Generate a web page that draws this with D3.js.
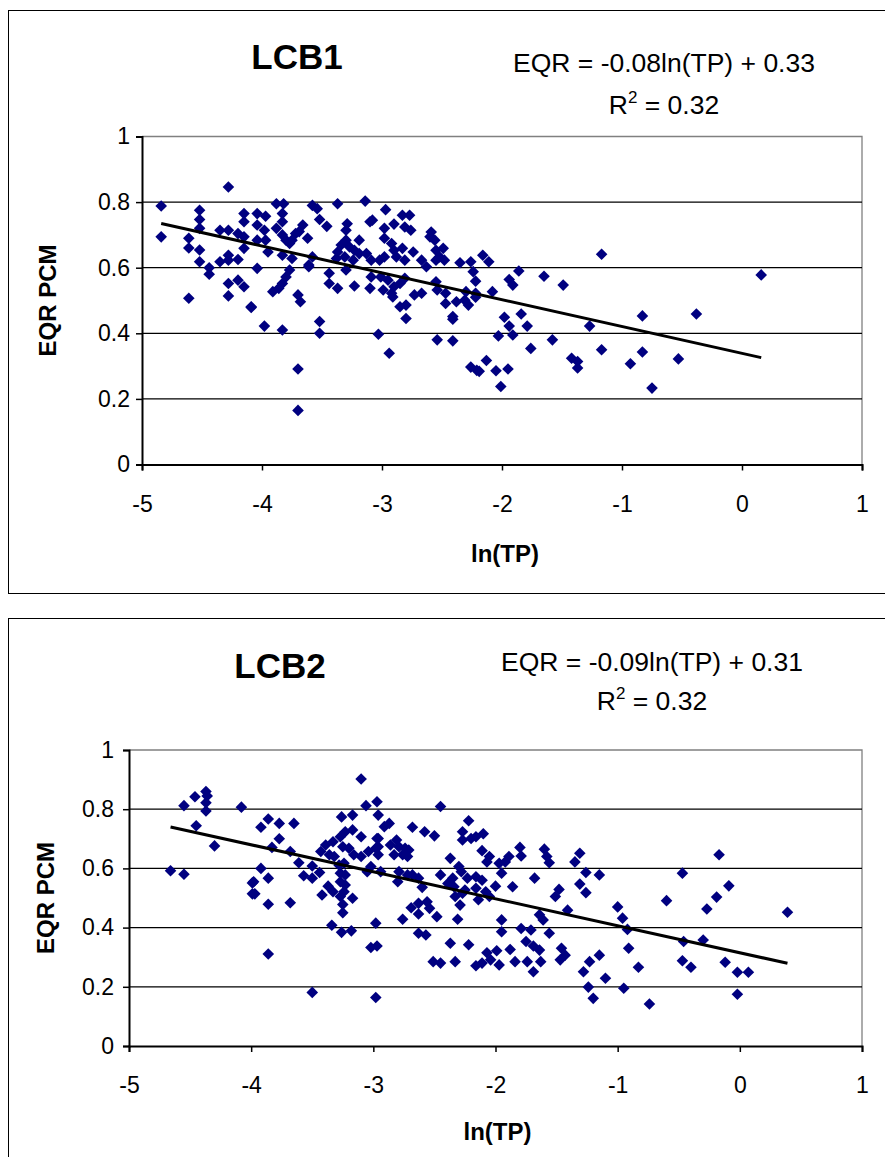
<!DOCTYPE html>
<html><head><meta charset="utf-8">
<script src="https://cdn.jsdelivr.net/npm/d3@7"></script>
<style>body{margin:0;background:#fff}svg{display:block}text{font-family:"Liberation Sans",Arial,sans-serif}</style>
</head><body>
<svg id="c" width="885" height="1157"></svg>
<script>
// ---------- DATA ----------
const xTickValues = [-5, -4, -3, -2, -1, 0, 1];
const yTickValues = [0, 0.2, 0.4, 0.6, 0.8, 1];
const xAxisTitle = "ln(TP)";
const yAxisTitle = "EQR PCM";

const lcb1Title = "LCB1";
const lcb1Equation = "EQR = -0.08ln(TP) + 0.33";
const lcb1R2 = "0.32";
const lcb1Trend = [-0.0818, 0.339, -4.84, 0.16]; // slope, intercept, xmin, xmax
const lcb1LnTP = [-4.28,-4.84,-4.84,-4.52,-4.52,-4.52,-4.61,-4.61,-4.52,-4.52,-4.44,-4.44,-4.35,-4.35,-4.28,-4.28,-4.28,-4.20,-4.20,-4.28,-4.28,-4.20,-4.15,-4.61,-4.09,-4.15,-4.15,-4.15,-4.15,-4.04,-3.97,-4.04,-3.98,-4.04,-3.97,-3.95,-4.04,-3.88,-3.82,-3.83,-3.83,-3.88,-3.83,-3.80,-3.75,-3.72,-3.66,-3.69,-3.62,-3.77,-3.83,-3.75,-3.61,-3.58,-3.77,-3.80,-3.83,-3.86,-3.91,-3.70,-3.68,-3.58,-4.09,-3.98,-3.83,-3.70,-3.70,-3.14,-3.37,-3.54,-2.97,-3.52,-3.46,-3.29,-3.10,-3.08,-2.90,-2.83,-2.77,-2.81,-2.76,-2.98,-2.98,-3.30,-3.30,-3.19,-3.34,-3.27,-3.37,-3.23,-3.19,-3.31,-3.38,-3.24,-3.13,-3.09,-2.92,-2.90,-2.83,-2.74,-2.98,-2.88,-2.81,-2.59,-2.60,-2.56,-2.49,-2.55,-2.52,-2.55,-2.48,-2.67,-2.63,-2.35,-2.26,-2.24,-3.61,-3.44,-3.44,-3.37,-3.23,-3.30,-3.09,-3.10,-3.02,-3.01,-2.99,-2.95,-2.92,-2.90,-2.85,-2.81,-2.91,-2.85,-2.80,-2.73,-2.67,-2.55,-2.54,-2.47,-2.47,-2.38,-2.31,-2.30,-2.28,-2.41,-3.52,-2.22,-3.52,-3.03,-2.94,-2.54,-2.41,-2.41,-2.80,-2.26,-2.21,-2.16,-2.11,-2.22,-2.22,-2.08,-1.86,-1.94,-1.91,-1.65,-1.49,-1.17,0.16,-1.98,-1.84,-1.94,-1.79,-2.03,-1.91,-1.76,-1.58,-1.27,-0.83,-0.38,-1.17,-0.83,-0.53,-1.42,-1.37,-1.37,-0.93,-2.13,-2.19,-2.05,-1.95,-2.01,-0.75];
const lcb1EQR = [0.846,0.788,0.694,0.775,0.747,0.72,0.69,0.66,0.654,0.618,0.60,0.58,0.714,0.618,0.714,0.638,0.623,0.704,0.625,0.552,0.514,0.562,0.542,0.507,0.481,0.765,0.74,0.694,0.659,0.765,0.757,0.73,0.714,0.684,0.684,0.648,0.598,0.795,0.795,0.765,0.74,0.72,0.70,0.684,0.684,0.704,0.73,0.71,0.69,0.674,0.638,0.628,0.603,0.633,0.593,0.572,0.552,0.537,0.527,0.517,0.496,0.79,0.479,0.422,0.41,0.291,0.165,0.803,0.795,0.78,0.777,0.747,0.726,0.734,0.74,0.745,0.733,0.76,0.76,0.724,0.714,0.72,0.69,0.714,0.684,0.684,0.669,0.663,0.648,0.653,0.643,0.633,0.628,0.623,0.643,0.623,0.674,0.653,0.659,0.648,0.633,0.633,0.623,0.709,0.694,0.684,0.659,0.653,0.633,0.623,0.623,0.623,0.603,0.615,0.618,0.588,0.608,0.583,0.552,0.537,0.544,0.593,0.572,0.537,0.623,0.572,0.532,0.562,0.522,0.542,0.552,0.568,0.511,0.481,0.486,0.517,0.522,0.557,0.532,0.522,0.491,0.496,0.501,0.527,0.486,0.451,0.436,0.522,0.40,0.397,0.339,0.38,0.377,0.443,0.445,0.297,0.287,0.638,0.618,0.559,0.51,0.527,0.59,0.564,0.547,0.574,0.547,0.641,0.578,0.449,0.459,0.422,0.422,0.392,0.395,0.354,0.38,0.422,0.453,0.459,0.35,0.343,0.322,0.324,0.314,0.294,0.307,0.317,0.284,0.286,0.291,0.238,0.233];

const lcb2Title = "LCB2";
const lcb2Equation = "EQR = -0.09ln(TP) + 0.31";
const lcb2R2 = "0.32";
const lcb2Trend = [-0.0912, 0.315, -4.66, 0.39];
const lcb2LnTP = [-4.37,-4.36,-4.46,-4.37,-4.55,-4.37,-4.08,-4.45,-4.30,-4.66,-4.55,-3.99,-3.99,-3.10,-3.06,-2.97,-3.86,-3.92,-3.77,-3.65,-3.77,-3.83,-3.68,-3.61,-3.50,-3.92,-3.98,-3.86,-3.97,-3.57,-3.50,-3.44,-3.86,-3.68,-3.42,-3.37,-3.33,-3.86,-3.50,-3.26,-3.17,-3.23,-3.17,-3.10,-3.27,-3.33,-3.39,-3.43,-3.36,-3.32,-3.25,-3.20,-3.16,-3.10,-3.04,-2.98,-2.97,-3.28,-3.24,-3.27,-3.23,-3.27,-3.23,-3.24,-3.27,-3.17,-3.25,-3.25,-3.05,-3.02,-3.34,-3.26,-3.18,-2.98,-3.02,-2.97,-2.98,-2.96,-2.45,-2.87,-2.91,-2.68,-2.58,-2.50,-2.96,-2.96,-2.96,-2.86,-2.81,-2.79,-2.74,-2.71,-2.83,-2.76,-2.72,-2.94,-2.79,-2.72,-2.68,-2.63,-2.80,-2.60,-2.69,-2.63,-2.56,-2.63,-2.54,-2.48,-2.76,-2.63,-2.57,-2.51,-2.45,-2.27,-2.22,-2.27,-2.20,-2.16,-2.10,-2.37,-2.11,-2.05,-2.07,-1.97,-2.30,-2.28,-2.45,-2.35,-2.23,-2.16,-2.11,-1.95,-2.39,-2.34,-2.25,-2.16,-2.08,-2.00,-2.33,-2.27,-2.14,-2.05,-2.29,-2.31,-1.95,-1.95,-2.37,-2.22,-2.07,-1.99,-2.33,-2.16,-2.11,-2.04,-1.97,-1.80,-1.79,-1.89,-1.92,-1.60,-1.58,-1.56,-1.31,-1.35,-1.26,-1.15,-1.68,-1.86,-1.31,-1.26,-1.48,-1.51,-1.41,-1.64,-1.61,-1.00,-0.96,-1.79,-1.71,-1.56,-1.75,-1.69,-1.88,-1.46,-1.43,-1.47,-1.64,-1.63,-1.84,-1.74,-1.69,-1.15,-1.23,-1.28,-1.24,-1.20,-1.10,-0.95,-0.91,-0.17,-0.47,-0.09,-0.60,-0.19,-0.27,0.39,-0.92,-0.46,-0.30,-0.83,-0.47,-0.40,-0.12,-0.02,0.07,-0.74,-0.02];
const lcb2EQR = [0.86,0.845,0.842,0.822,0.812,0.794,0.807,0.744,0.676,0.592,0.58,0.551,0.514,0.902,0.812,0.825,0.767,0.739,0.752,0.752,0.70,0.671,0.657,0.619,0.608,0.60,0.555,0.567,0.514,0.575,0.567,0.586,0.479,0.484,0.51,0.54,0.521,0.311,0.181,0.774,0.78,0.724,0.73,0.707,0.707,0.69,0.679,0.657,0.646,0.64,0.673,0.668,0.646,0.64,0.657,0.668,0.701,0.611,0.617,0.584,0.578,0.555,0.544,0.521,0.505,0.499,0.478,0.45,0.589,0.606,0.408,0.384,0.389,0.415,0.333,0.338,0.164,0.78,0.809,0.752,0.741,0.739,0.724,0.71,0.701,0.673,0.646,0.679,0.696,0.673,0.668,0.662,0.646,0.646,0.64,0.589,0.589,0.578,0.578,0.567,0.555,0.536,0.467,0.482,0.487,0.446,0.465,0.437,0.428,0.381,0.375,0.285,0.28,0.724,0.761,0.696,0.701,0.707,0.717,0.634,0.66,0.64,0.622,0.617,0.606,0.589,0.578,0.567,0.567,0.572,0.56,0.584,0.549,0.538,0.527,0.533,0.521,0.54,0.505,0.516,0.494,0.505,0.476,0.428,0.426,0.386,0.347,0.342,0.315,0.322,0.285,0.271,0.28,0.291,0.274,0.671,0.642,0.64,0.622,0.665,0.64,0.619,0.651,0.622,0.586,0.578,0.567,0.538,0.547,0.518,0.529,0.505,0.459,0.443,0.426,0.47,0.432,0.397,0.392,0.381,0.353,0.338,0.326,0.33,0.307,0.291,0.324,0.285,0.285,0.285,0.251,0.307,0.285,0.251,0.199,0.161,0.229,0.195,0.33,0.646,0.584,0.541,0.491,0.503,0.463,0.452,0.394,0.353,0.358,0.266,0.288,0.266,0.283,0.249,0.249,0.142,0.175];

// ---------- DRAW ----------
const svg = d3.select("#c");
const fmtX = d => String(d);
const fmtY = d => String(+d.toFixed(1));

function drawChart(o) {
  const g = svg.append("g");
  g.append("rect").attr("x", o.frame[0] + 0.5).attr("y", o.frame[1] + 0.5)
    .attr("width", o.frame[2]).attr("height", o.frame[3])
    .attr("fill", "#fff").attr("stroke", "#000").attr("stroke-width", 1);

  const x = d3.scaleLinear().domain([-5, 1]).range([o.plot.left, o.plot.right]);
  const y = d3.scaleLinear().domain([0, 1]).range([o.plot.bottom, o.plot.top]);

  // plot border (grey top/right)
  g.append("path").attr("d", `M${x(-5)},${y(1)}H${x(1)}V${y(0)}`)
    .attr("fill", "none").attr("stroke", "#808080").attr("stroke-width", 1.3);

  // gridlines
  g.selectAll(".grid").data(yTickValues.filter(v => v > 0 && v < 1)).enter()
    .append("line").attr("x1", x(-5)).attr("x2", x(1))
    .attr("y1", d => y(d)).attr("y2", d => y(d))
    .attr("stroke", "#000").attr("stroke-width", 1.3);

  // axes
  const ya = g.append("g").attr("transform", `translate(${x(-5)},0)`)
    .call(d3.axisLeft(y).tickValues(yTickValues).tickFormat(fmtY).tickSize(6).tickPadding(o.yPad));
  const xa = g.append("g").attr("transform", `translate(0,${y(0)})`)
    .call(d3.axisBottom(x).tickValues(xTickValues).tickFormat(fmtX).tickSize(6).tickPadding(o.xPad));
  [ya, xa].forEach(a => {
    a.select(".domain").attr("stroke", "#000").attr("stroke-width", 2);
    a.selectAll(".tick line").attr("stroke", "#000").attr("stroke-width", 1.5);
    a.selectAll("text").attr("font-size", 23).attr("fill", "#000")
      .attr("font-family", '"Liberation Sans", Arial, sans-serif');
  });

  // points
  const pts = o.lnTP.map((v, i) => [v, o.eqr[i]]);
  const r = 5.8;
  g.selectAll(".pt").data(pts).enter().append("path")
    .attr("d", `M0,${-r}L${r},0L0,${r}L${-r},0Z`)
    .attr("transform", d => `translate(${x(d[0])},${y(d[1])})`)
    .attr("fill", "#000080");

  // trendline
  const [m, b, x0, x1] = o.trend;
  g.append("line").attr("x1", x(x0)).attr("y1", y(m * x0 + b))
    .attr("x2", x(x1)).attr("y2", y(m * x1 + b))
    .attr("stroke", "#000").attr("stroke-width", 3);

  // titles
  g.append("text").attr("x", o.titlePos[0]).attr("y", o.titlePos[1])
    .attr("text-anchor", "middle").attr("font-size", 35).attr("font-weight", "bold").text(o.title);
  g.append("text").attr("x", o.eqPos[0]).attr("y", o.eqPos[1])
    .attr("text-anchor", "middle").attr("font-size", 26.5).text(o.equation);
  const r2 = g.append("text").attr("x", o.eqPos[0]).attr("y", o.eqPos[1] + o.r2dy)
    .attr("text-anchor", "middle").attr("font-size", 26.5);
  r2.append("tspan").text("R");
  r2.append("tspan").attr("font-size", 17).attr("dy", -11).text("2");
  r2.append("tspan").attr("dy", 11).text(" = " + o.r2);

  g.append("text").attr("x", (o.plot.left + o.plot.right) / 2 + o.xtOff).attr("y", o.xTitleY)
    .attr("text-anchor", "middle").attr("font-size", 24).attr("font-weight", "bold").text(xAxisTitle);
  g.append("text").attr("transform", `translate(${o.yTitleX},${(o.plot.top + o.plot.bottom) / 2}) rotate(-90)`)
    .attr("text-anchor", "middle").attr("font-size", 24).attr("font-weight", "bold").text(yAxisTitle);
}

drawChart({
  frame: [8, 10, 880, 583],
  plot: {left: 142, right: 862, top: 136.5, bottom: 464.5},
  lnTP: lcb1LnTP, eqr: lcb1EQR, trend: lcb1Trend,
  title: lcb1Title, equation: lcb1Equation, r2: lcb1R2,
  titlePos: [297, 69], eqPos: [664, 72], r2dy: 42,
  xTitleY: 562, xtOff: 3, yTitleX: 56, yPad: 6, xPad: 25
});
drawChart({
  frame: [8, 618, 880, 560],
  plot: {left: 129, right: 862, top: 750, bottom: 1046},
  lnTP: lcb2LnTP, eqr: lcb2EQR, trend: lcb2Trend,
  title: lcb2Title, equation: lcb2Equation, r2: lcb2R2,
  titlePos: [280, 678], eqPos: [652, 671], r2dy: 39,
  xTitleY: 1140, xtOff: 2, yTitleX: 54, yPad: 9, xPad: 25
});
</script>
</body></html>
